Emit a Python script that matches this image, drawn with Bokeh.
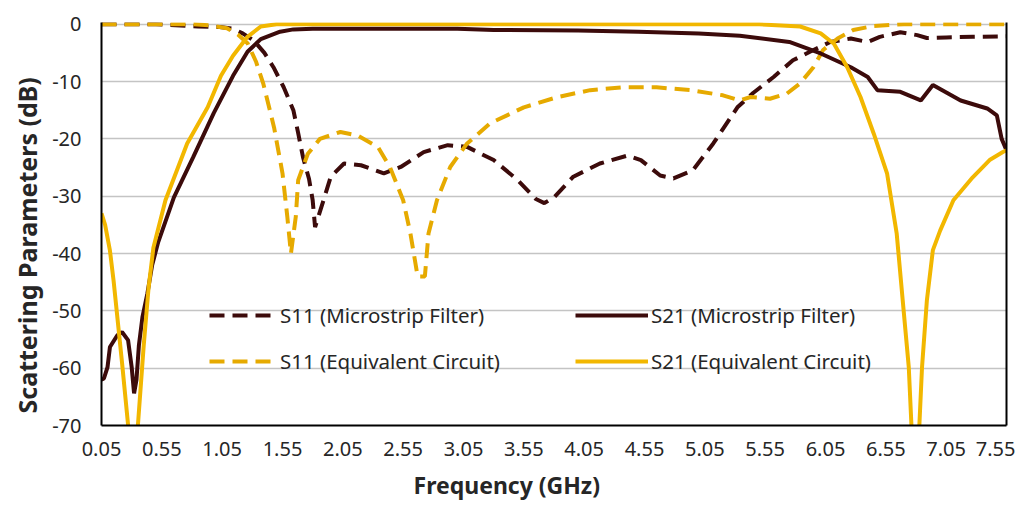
from bokeh.plotting import figure
from bokeh.models import Range1d, FixedTicker, PrintfTickFormatter, LinearAxis, Legend, LegendItem, Title
from bokeh.embed import file_html
from bokeh.resources import INLINE

# ---------------- data ----------------
x_ticks = [0.05, 0.55, 1.05, 1.55, 2.05, 2.55, 3.05, 3.55, 4.05, 4.55, 5.05, 5.55, 6.05, 6.55, 7.05, 7.55]
y_ticks = [-70, -60, -50, -40, -30, -20, -10, 0]

# S11 (Microstrip Filter)
f_s11_mf = [0.05, 0.5, 0.85, 1.03, 1.14, 1.22, 1.31, 1.40, 1.475, 1.56, 1.64, 1.68, 1.72, 1.77, 1.80, 1.82,
            1.89, 1.95, 2.06, 2.20, 2.39, 2.53, 2.72, 2.92, 3.08, 3.30, 3.50, 3.65, 3.72, 3.80, 3.96, 4.18,
            4.41, 4.52, 4.68, 4.79, 4.95, 5.12, 5.32, 5.45, 5.62, 5.78, 5.95, 6.09, 6.26, 6.40, 6.50, 6.67,
            6.81, 6.89, 7.05, 7.27, 7.55]
s11_mf = [0, 0, -0.4, -0.5, -0.8, -1.6, -2.8, -5.0, -7.5, -11.0, -15.0, -19.0, -23.2, -27.0, -30.7, -35.4,
          -30.7, -26.6, -24.3, -24.6, -26.0, -24.9, -22.3, -21.1, -21.4, -23.7, -27.2, -30.5, -31.2, -30.2, -26.6, -24.3,
          -22.9, -23.7, -26.4, -26.9, -25.5, -20.8, -14.5, -12.0, -9.2, -6.3, -4.5, -3.1, -2.5, -3.1, -2.2, -1.4,
          -1.9, -2.4, -2.3, -2.2, -2.1]

# S21 (Microstrip Filter)
f_s21_mf = [0.05, 0.07, 0.10, 0.12, 0.18, 0.22, 0.27, 0.30, 0.32, 0.34, 0.36, 0.39, 0.43, 0.47, 0.52,
            0.65, 0.81, 0.98, 1.14, 1.26, 1.37, 1.53, 1.64, 1.8, 2.5, 3.0, 3.3, 4.0, 4.5, 5.0, 5.34,
            5.75, 6.01, 6.26, 6.40, 6.48, 6.67, 6.84, 6.94, 7.17, 7.39, 7.47, 7.51, 7.55]
s21_mf = [-62, -61.8, -59.8, -56.3, -54.3, -53.7, -55.1, -59.8, -64.4, -62, -56, -51, -47, -42, -38,
          -30.2, -23.2, -15.5, -9.0, -4.8, -2.6, -1.3, -0.9, -0.8, -0.8, -0.8, -1.0, -1.1, -1.3, -1.6, -2.0,
          -3.1, -5.1, -7.5, -9.2, -11.5, -11.8, -13.3, -10.6, -13.3, -14.7, -15.9, -20.0, -22.0]

# S11 (Equivalent Circuit)
f_s11_ec = [0.05, 0.8, 0.95, 1.09, 1.18, 1.26, 1.33, 1.39, 1.48, 1.55, 1.59, 1.62, 1.66, 1.68, 1.76, 1.86,
            2.03, 2.17, 2.34, 2.44, 2.55, 2.61, 2.67, 2.73, 2.76, 2.83, 2.94, 3.08, 3.27, 3.55, 3.83, 4.10,
            4.37, 4.65, 4.93, 5.20, 5.34, 5.43, 5.59, 5.73, 5.84, 5.95, 6.03, 6.15, 6.28, 6.45, 6.7, 7.55]
s11_ec = [0, 0, -0.2, -0.7, -1.8, -3.3, -6.5, -10.3, -18.0, -26.0, -33.6, -40.0, -33.6, -27.2, -22.6, -20.0,
          -18.8, -19.4, -21.4, -24.9, -30.7, -36.5, -44.0, -44.0, -36.5, -30.7, -24.9, -20.8, -17.3, -14.5, -12.7, -11.5,
          -11.0, -11.0, -11.5, -12.4, -13.3, -12.7, -13.0, -12.1, -10.3, -7.5, -4.5, -2.5, -1.0, -0.3, 0, 0]

# S21 (Equivalent Circuit)
f_s21_ec = [0.05, 0.08, 0.12, 0.15, 0.22, 0.317, 0.40, 0.44, 0.48, 0.58, 0.76, 0.93, 1.04, 1.14, 1.26, 1.37, 1.5,
            5.5, 5.84, 6.01, 6.12, 6.23, 6.34, 6.45, 6.56, 6.64, 6.69, 6.74, 6.795, 6.85, 6.89, 6.94, 7.0,
            7.11, 7.27, 7.41, 7.52, 7.55]
s21_ec = [-33, -35, -39.5, -44.7, -59, -80, -56, -46, -39, -30.7, -20.8, -14.5, -9.0, -5.5, -2.2, -0.4, 0,
          0, -0.4, -1.6, -3.4, -7.5, -12.7, -19.1, -26.0, -36.5, -48.2, -59.8, -85, -59.8, -48.2, -39.4, -36.0,
          -30.7, -26.7, -23.7, -22.3, -22.0]

labels = ["S11 (Microstrip Filter)", "S21 (Microstrip Filter)",
          "S11 (Equivalent Circuit)", "S21 (Equivalent Circuit)"]
x_title = "Frequency (GHz)"
y_title = "Scattering Parameters (dB)"

# ---------------- styles ----------------
DARK = "#3C0B0B"
GOLD = "#F2B700"
GOLD_D = "#E6AA00"
FONT = "Noto Sans"
TXT = "#262626"

p = figure(width=1015, height=508, x_range=Range1d(0.05, 7.55), y_range=Range1d(-70, 0.3),
           output_backend="svg", toolbar_location=None,
           min_border_left=101, min_border_right=9, min_border_top=22, min_border_bottom=83)
p.outline_line_color = None
p.background_fill_color = "white"
p.border_fill_color = "white"

p.xgrid.visible = False
p.ygrid.ticker = FixedTicker(ticks=y_ticks)
p.ygrid.grid_line_color = "#C4C4C4"
p.ygrid.grid_line_width = 1.5

p.xaxis.ticker = FixedTicker(ticks=x_ticks)
p.xaxis.formatter = PrintfTickFormatter(format="%.2f")
p.yaxis.ticker = FixedTicker(ticks=y_ticks)
p.yaxis.formatter = PrintfTickFormatter(format="%d")

for ax in (p.xaxis[0], p.yaxis[0]):
    ax.axis_line_color = "black"
    ax.axis_line_width = 2
    ax.major_tick_line_color = None
    ax.minor_tick_line_color = None
    ax.major_tick_out = 0
    ax.major_tick_in = 0
    ax.major_label_text_font = FONT
    ax.major_label_text_font_size = "20px"
    ax.major_label_text_color = TXT

p.xaxis.major_label_standoff = 16
p.yaxis.major_label_standoff = 20

# axis titles as Title annotations so they can sit off-centre like the reference
xt = Title(text=x_title, align="left", offset=312, standoff=16,
           text_font=FONT, text_font_size="23px", text_font_style="bold", text_color=TXT)
yt = Title(text=y_title, align="left", offset=12, standoff=12,
           text_font=FONT, text_font_size="25px", text_font_style="bold", text_color=TXT)
p.add_layout(xt, "below")
p.add_layout(yt, "left")

ra = LinearAxis(ticker=FixedTicker(ticks=[]), major_label_text_font_size="0px",
                axis_line_color="black", axis_line_width=2,
                major_tick_line_color=None, minor_tick_line_color=None,
                major_label_standoff=0, major_tick_out=0, major_tick_in=0)
p.add_layout(ra, "right")

r1 = p.line(f_s11_mf, s11_mf, line_color=DARK, line_width=4, line_dash="15 8")
r3 = p.line(f_s11_ec, s11_ec, line_color=GOLD_D, line_width=4, line_dash="15 8")
r2 = p.line(f_s21_mf, s21_mf, line_color=DARK, line_width=4)
r4 = p.line(f_s21_ec, s21_ec, line_color=GOLD, line_width=4)

def make_legend(items, loc, gw, st):
    lg = Legend(items=items, location=loc)
    lg.background_fill_alpha = 0
    lg.border_line_alpha = 0
    lg.padding = 0
    lg.margin = 0
    lg.spacing = 18
    lg.glyph_width = gw
    lg.glyph_height = 24
    lg.label_height = 24
    lg.label_standoff = st
    lg.label_text_font = FONT
    lg.label_text_font_size = "20.5px"
    lg.label_text_color = TXT
    return lg

leg1 = make_legend([LegendItem(label=labels[0], renderers=[r1]),
                    LegendItem(label=labels[2], renderers=[r3])], (108, 50), 63, 8)
leg2 = make_legend([LegendItem(label=labels[1], renderers=[r2]),
                    LegendItem(label=labels[3], renderers=[r4])], (474, 50), 73, 3)
p.add_layout(leg1)
p.add_layout(leg2)

open("out.html", "w").write(file_html(p, INLINE))
